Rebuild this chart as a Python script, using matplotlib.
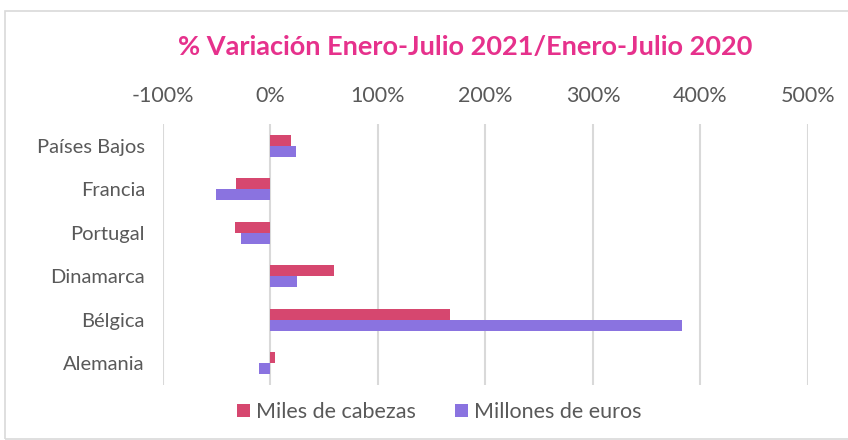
import numpy as np
import matplotlib.pyplot as plt
from matplotlib.patches import Rectangle
from matplotlib.ticker import FuncFormatter

plt.rcParams['font.family'] = ['Lato', 'DejaVu Sans']

# Data
paises = ['Países Bajos', 'Francia', 'Portugal', 'Dinamarca', 'Bélgica', 'Alemania']
miles_cabezas = [19, -32, -33, 59, 167, 4]
millones_euros = [24, -51, -27, 25, 383, -11]
xticks = [-100, 0, 100, 200, 300, 400, 500]

c_miles = '#d6476f'
c_millones = '#8a73e0'
c_title = '#e6318c'
c_text = '#595959'

fig = plt.figure(figsize=(8.48, 4.4), dpi=100)
ax = fig.add_axes([0.1922, 0.125, 0.7606, 0.593])

# light frame around the chart
fig.patches.append(Rectangle((5 / 848, 0.002), 1.2, 1 - 11 / 440 - 0.002,
                             transform=fig.transFigure, fill=False,
                             edgecolor='#d9d9d9', linewidth=1.2))

y = np.arange(len(paises))
h = 0.25
ax.barh(y - h / 2, miles_cabezas, height=h, color=c_miles, label='Miles de cabezas', zorder=3)
ax.barh(y + h / 2, millones_euros, height=h, color=c_millones, label='Millones de euros', zorder=3)

ax.set_xlim(-100, 500)
ax.set_ylim(len(paises) - 0.5, -0.5)
ax.set_xticks(xticks)
ax.xaxis.set_major_formatter(FuncFormatter(lambda v, p: f'{v:.0f}%'))
ax.xaxis.tick_top()
ax.tick_params(axis='x', length=0, pad=13, labelsize=15.5, labelcolor=c_text)
ax.set_yticks(y)
ax.set_yticklabels(paises)
ax.tick_params(axis='y', length=0, pad=13, labelsize=14.5, labelcolor=c_text)
ax.grid(axis='x', color='#d9d9d9', linewidth=1.5, zorder=0)
for s in ax.spines.values():
    s.set_visible(False)

fig.text(0.548, 0.893, '% Variación Enero-Julio 2021/Enero-Julio 2020', ha='center', va='center',
         fontsize=19.5, fontweight='bold', color=c_title)

fig.legend(loc='center', bbox_to_anchor=(0.518, 1 - 412 / 440), ncol=2, frameon=False,
           fontsize=15.5, labelcolor=c_text, handlelength=0.6, handleheight=0.6,
           handletextpad=0.3, columnspacing=1.8)

fig.savefig('out.png', dpi=100)
